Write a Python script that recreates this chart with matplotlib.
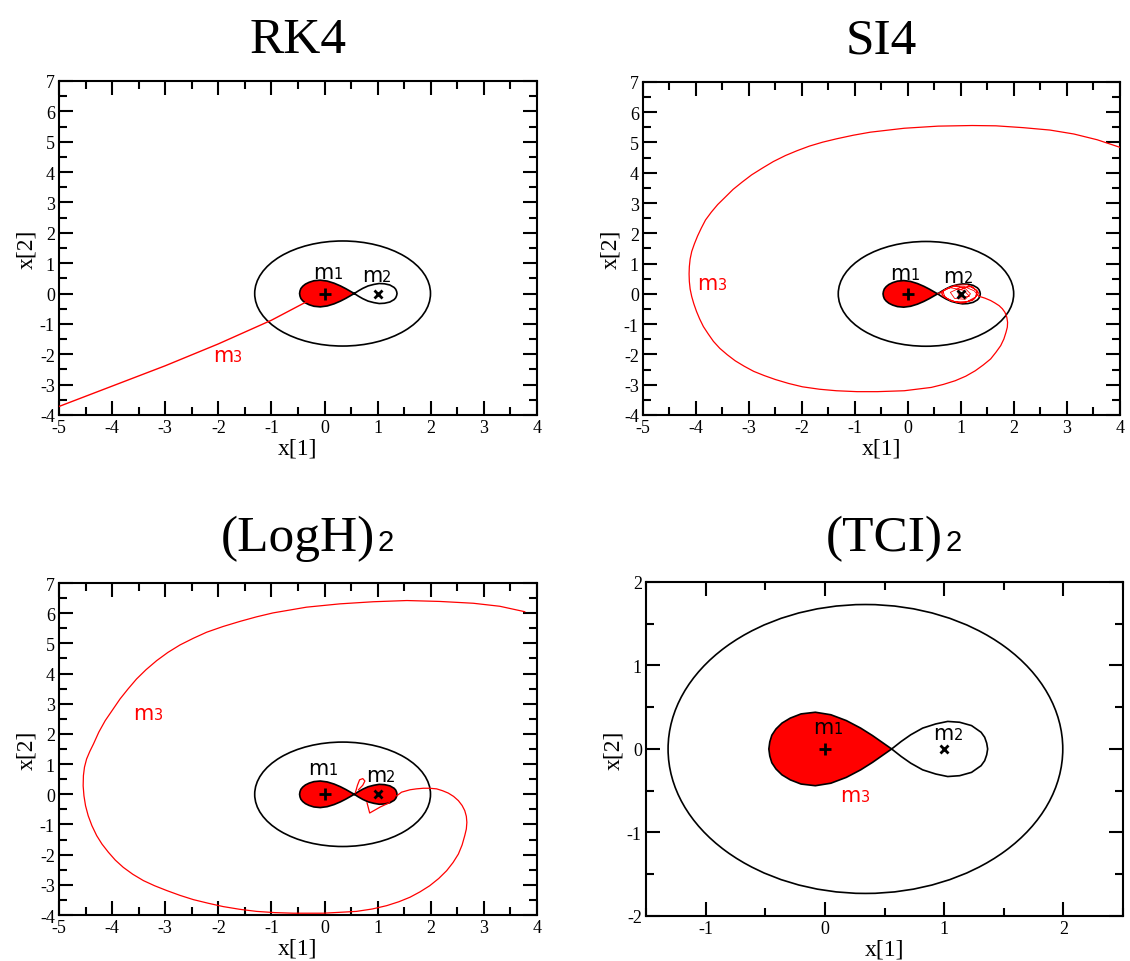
import matplotlib
matplotlib.use("Agg")
import matplotlib.pyplot as plt
from matplotlib.patches import Ellipse
from matplotlib.ticker import MultipleLocator

plt.rcParams['font.family'] = ['Liberation Serif', 'DejaVu Serif']
plt.rcParams['axes.unicode_minus'] = False

# outer zero velocity curve (same in every panel)
oval_center = (0.34, 0.0)
oval_width = 3.31
oval_height = 3.46

# inner figure-eight: lobe round m1 and lobe round m2
lobe1_x = [0.56, 0.48, 0.40, 0.30, 0.18, 0.05, -0.08, -0.20, -0.29, -0.36, -0.41, -0.445, -0.462, -0.47,
           -0.462, -0.445, -0.41, -0.36, -0.29, -0.20, -0.08, 0.05, 0.18, 0.30, 0.40, 0.48, 0.56]
lobe1_y = [0.0, 0.08, 0.16, 0.25, 0.34, 0.41, 0.44, 0.42, 0.37, 0.31, 0.24, 0.165, 0.085, 0.0,
           -0.085, -0.165, -0.24, -0.31, -0.37, -0.42, -0.44, -0.41, -0.34, -0.25, -0.16, -0.08, 0.0]
lobe2_x = [0.56, 0.64, 0.72, 0.82, 0.93, 1.03, 1.13, 1.23, 1.31, 1.34, 1.357, 1.365,
           1.357, 1.34, 1.31, 1.23, 1.13, 1.03, 0.93, 0.82, 0.72, 0.64, 0.56]
lobe2_y = [0.0, 0.09, 0.17, 0.25, 0.30, 0.33, 0.32, 0.28, 0.20, 0.14, 0.07, 0.0,
           -0.07, -0.14, -0.20, -0.28, -0.32, -0.33, -0.30, -0.25, -0.17, -0.09, 0.0]

m1_pos = (0.0, 0.0)
m2_pos = (1.0, 0.0)

# m3 orbit, RK4
rk4_x = [-5.0, -4.0, -3.0, -2.0, -1.0, -0.37, -0.15]
rk4_y = [-3.72, -3.05, -2.38, -1.66, -0.88, -0.30, -0.12]

# m3 orbit, SI4
si4_x = [4.00, 3.57, 3.13, 2.68, 2.17, 1.66, 1.21, 0.57, -0.07, -0.71, -1.03, -1.35, -1.61, -1.86,
         -2.09, -2.31, -2.54, -2.75, -2.95, -3.13, -3.30, -3.45, -3.59, -3.71, -3.82, -3.90, -3.97,
         -4.03, -4.08, -4.11, -4.125, -4.13, -4.125, -4.11, -4.08, -4.04, -3.99, -3.93, -3.86, -3.77,
         -3.67, -3.55, -3.41, -3.26, -3.09, -2.91, -2.71, -2.50, -2.25, -1.99, -1.67, -1.35, -0.96,
         -0.58, -0.07, 0.44, 0.67, 0.89, 1.09, 1.27, 1.42, 1.56, 1.66, 1.75, 1.81, 1.85, 1.875, 1.88,
         1.865, 1.83, 1.78, 1.72, 1.64, 1.56, 1.45, 1.34]
si4_y = [4.84, 5.09, 5.28, 5.41, 5.49, 5.55, 5.56, 5.54, 5.47, 5.34, 5.24, 5.12, 5.01, 4.88,
         4.73, 4.57, 4.37, 4.15, 3.93, 3.69, 3.45, 3.19, 2.95, 2.70, 2.44, 2.17, 1.91,
         1.65, 1.40, 1.15, 0.90, 0.66, 0.41, 0.16, -0.09, -0.33, -0.58, -0.83, -1.08, -1.32,
         -1.57, -1.80, -2.01, -2.21, -2.39, -2.56, -2.70, -2.83, -2.96, -3.07, -3.15, -3.20, -3.23,
         -3.23, -3.20, -3.09, -2.99, -2.87, -2.72, -2.54, -2.35, -2.15, -1.93, -1.71, -1.49, -1.27, -1.10, -0.94,
         -0.77, -0.61, -0.49, -0.39, -0.30, -0.22, -0.14, -0.08]
# SI4 tangle inside the m2 lobe
si4_knot_x = [1.34, 1.25, 1.05, 0.85, 0.66, 0.70, 0.90, 1.12, 1.28, 1.30, 1.12, 0.92, 0.74, 0.62,
              0.78, 1.00, 1.22, 1.34, 1.22, 0.98, 0.80, 0.88, 1.08, 1.18, 1.08, 0.86, 0.68, 0.64,
              0.82, 1.06, 1.26, 1.32, 1.16, 0.94, 0.96, 1.16, 1.05, 0.78, 0.60, 0.56]
si4_knot_y = [-0.08, 0.10, 0.25, 0.24, 0.10, -0.12, -0.27, -0.25, -0.10, 0.12, 0.30, 0.29, 0.18, 0.02,
              -0.20, -0.31, -0.22, 0.02, 0.24, 0.20, 0.05, -0.15, -0.18, 0.00, 0.18, 0.26, 0.12, -0.06,
              -0.24, -0.30, -0.16, 0.08, 0.27, 0.10, -0.12, -0.08, 0.12, 0.21, 0.04, 0.0]

# m3 orbit, (LogH)2
logh_x = [3.77, 3.30, 2.80, 2.17, 1.55, 0.92, 0.29, -0.34, -0.97, -1.28, -1.59, -1.91, -2.22, -2.47,
          -2.72, -2.95, -3.16, -3.36, -3.54, -3.70, -3.85, -3.99, -4.13, -4.25, -4.35, -4.42, -4.48,
          -4.52, -4.54, -4.545, -4.53, -4.50, -4.45, -4.38, -4.29, -4.19, -4.07, -3.94, -3.79, -3.61,
          -3.41, -3.20, -2.97, -2.72, -2.47, -2.19, -1.91, -1.60, -1.28, -0.94, -0.59, -0.02, 0.60,
          0.90, 1.17, 1.40, 1.61, 1.80, 1.98, 2.15, 2.30, 2.42, 2.52, 2.59, 2.64, 2.67, 2.68, 2.67,
          2.64, 2.59, 2.52, 2.43, 2.33, 2.22, 2.11, 1.98, 1.86, 1.73, 1.61, 1.45, 1.36]
logh_y = [6.05, 6.23, 6.33, 6.39, 6.42, 6.38, 6.31, 6.20, 6.01, 5.88, 5.73, 5.56, 5.37, 5.17,
          4.95, 4.70, 4.43, 4.13, 3.82, 3.49, 3.16, 2.80, 2.44, 2.06, 1.67, 1.42, 1.17,
          0.90, 0.62, 0.28, -0.05, -0.38, -0.71, -1.04, -1.37, -1.65, -1.92, -2.18, -2.42, -2.65,
          -2.86, -3.03, -3.19, -3.35, -3.49, -3.61, -3.72, -3.81, -3.88, -3.92, -3.94, -3.94, -3.88,
          -3.80, -3.69, -3.56, -3.41, -3.23, -3.03, -2.79, -2.53, -2.26, -1.98, -1.68, -1.37, -1.15, -0.93, -0.73,
          -0.54, -0.37, -0.21, -0.07, 0.04, 0.12, 0.18, 0.20, 0.20, 0.18, 0.15, 0.07, -0.05]
logh_loop_x = [0.58, 0.62, 0.66, 0.72, 0.76, 0.72, 0.64]
logh_loop_y = [0.05, 0.30, 0.48, 0.52, 0.44, 0.30, 0.15]
logh_vee_x = [0.80, 0.85, 1.05, 1.22]
logh_vee_y = [-0.28, -0.62, -0.42, -0.28]

# label anchors (left edge, baseline) per panel: m1, m2, m3
labels_rk4 = [(-0.21, 0.52), (0.70, 0.41), (-2.10, -2.22)]
labels_si4 = [(-0.33, 0.49), (0.67, 0.38), (-3.97, 0.16)]
labels_logh = [(-0.31, 0.67), (0.78, 0.45), (-3.60, 2.50)]
labels_tci = [(-0.10, 0.19), (0.91, 0.12), (0.13, -0.62)]


def draw_base(ax, fill_right=False):
    ax.add_patch(Ellipse(oval_center, oval_width, oval_height, fill=False,
                         edgecolor='black', lw=1.2, zorder=3))
    ax.fill(lobe1_x, lobe1_y, color='red', lw=0, zorder=2)
    if fill_right:
        ax.fill(lobe2_x, lobe2_y, color='red', lw=0, zorder=2)
    ax.plot(lobe1_x, lobe1_y, color='black', lw=1.2, zorder=3)
    ax.plot(lobe2_x, lobe2_y, color='black', lw=1.2, zorder=3)
    ax.plot(*m1_pos, marker='+', ms=9, mew=2, color='black', zorder=6)
    ax.plot(*m2_pos, marker='x', ms=6, mew=2, color='black', zorder=6)


def mass_label(ax, pos, digit, color):
    ax.text(pos[0], pos[1], 'm', fontsize=15, color=color, family='DejaVu Sans',
            ha='left', va='baseline', zorder=7)
    ax.annotate(digit, xy=pos, xytext=(14.6, 0), textcoords='offset points',
                fontsize=10.5, color=color, family='DejaVu Sans',
                ha='left', va='baseline', zorder=7)


def style(ax, xlim, ylim):
    ax.set_xlim(*xlim)
    ax.set_ylim(*ylim)
    ax.xaxis.set_major_locator(MultipleLocator(1))
    ax.xaxis.set_minor_locator(MultipleLocator(0.5))
    ax.yaxis.set_major_locator(MultipleLocator(1))
    ax.yaxis.set_minor_locator(MultipleLocator(0.5))
    ax.tick_params(which='both', direction='in', top=True, right=True, width=1.5,
                   labelsize=13, pad=3)
    ax.tick_params(which='major', length=10)
    ax.tick_params(which='minor', length=6)
    for s in ax.spines.values():
        s.set_linewidth(1.5)
    ax.set_xlabel('x[1]', fontsize=17, labelpad=1)
    ax.set_ylabel('x[2]', fontsize=17, labelpad=2)


fig = plt.figure(figsize=(11.3, 9.62), dpi=100)
ax1 = fig.add_axes([0.0522, 0.5676, 0.4230, 0.3472])
ax2 = fig.add_axes([0.5690, 0.5676, 0.4221, 0.3462])
ax3 = fig.add_axes([0.0522, 0.0478, 0.4230, 0.3451])
ax4 = fig.add_axes([0.5717, 0.0468, 0.4221, 0.3472])

# RK4
draw_base(ax1)
ax1.plot(rk4_x, rk4_y, color='red', lw=1.0, zorder=4)
for p, d, c in zip(labels_rk4, ['1', '2', '3'], ['black', 'black', 'red']):
    mass_label(ax1, p, d, c)
style(ax1, (-5, 4), (-4, 7))

# SI4
draw_base(ax2)
ax2.plot(si4_x, si4_y, color='red', lw=0.9, zorder=4)
ax2.plot(si4_knot_x, si4_knot_y, color='red', lw=0.6, zorder=4)
for p, d, c in zip(labels_si4, ['1', '2', '3'], ['black', 'black', 'red']):
    mass_label(ax2, p, d, c)
style(ax2, (-5, 4), (-4, 7))

# (LogH)2
draw_base(ax3, fill_right=True)
ax3.plot(logh_x, logh_y, color='red', lw=0.9, zorder=4)
ax3.plot(logh_loop_x, logh_loop_y, color='red', lw=0.9, zorder=4)
ax3.plot(logh_vee_x, logh_vee_y, color='red', lw=0.9, zorder=4)
for p, d, c in zip(labels_logh, ['1', '2', '3'], ['black', 'black', 'red']):
    mass_label(ax3, p, d, c)
style(ax3, (-5, 4), (-4, 7))

# (TCI)2
draw_base(ax4)
for p, d, c in zip(labels_tci, ['1', '2', '3'], ['black', 'black', 'red']):
    mass_label(ax4, p, d, c)
style(ax4, (-1.5, 2.5), (-2, 2))

# titles
fig.text(0.5 * (0.0522 * 2 + 0.4230), 1 - 53 / 962, 'RK4', ha='center', va='baseline', fontsize=37)
fig.text(0.5 * (0.5690 * 2 + 0.4221), 1 - 53 / 962, 'SI4', ha='center', va='baseline', fontsize=37)
t3 = fig.text(0.5 * (0.0522 * 2 + 0.4230), 1 - 551 / 962, '(LogH)', ha='center', va='baseline', fontsize=37)
t4 = fig.text(0.5 * (0.5717 * 2 + 0.4221), 1 - 551 / 962, '(TCI)', ha='center', va='baseline', fontsize=37)

fig.canvas.draw()
r = fig.canvas.get_renderer()
for t in (t3, t4):
    bb = t.get_window_extent(r)
    fig.text((bb.x1 + 2) / fig.bbox.width, 1 - 551 / 962, '2', ha='left', va='baseline',
             fontsize=21, family='Liberation Sans')

fig.savefig('out.png', dpi=100)
